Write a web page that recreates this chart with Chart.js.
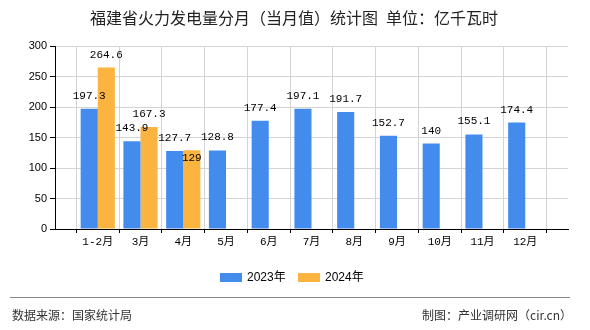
<!DOCTYPE html>
<html>
<head>
<meta charset="utf-8">
<script src="https://cdn.jsdelivr.net/npm/chart.js@4.4.1/dist/chart.umd.min.js"></script>
<style>
  body { margin: 0; background: #fff; }
  #wrap { width: 590px; height: 330px; }
</style>
</head>
<body>
<div id="wrap"><canvas id="chart" width="590" height="330"></canvas></div>
<script>
// 数据
const months = ['1-2月', '3月', '4月', '5月', '6月', '7月', '8月', '9月', '10月', '11月', '12月'];
const values2023 = [197.3, 143.9, 127.7, 128.8, 177.4, 197.1, 191.7, 152.7, 140, 155.1, 174.4];
const values2024 = [264.6, 167.3, 129];
const yTicks = [0, 50, 100, 150, 200, 250, 300];

const titleText = '福建省火力发电量分月（当月值）统计图\u2002单位：亿千瓦时';
const sourceText = '数据来源：国家统计局';
const makerText = '制图：产业调研网（cir.cn）';

// 左右各留一个空位，刻度落在网格线上
const labels = [''].concat(months, ['']);
const pad = arr => [null].concat(arr, new Array(months.length - arr.length + 1).fill(null));

const cjk = '"Noto Sans CJK SC", sans-serif';

// 柱顶数值
const barLabels = {
  id: 'barLabels',
  afterDatasetsDraw(chart) {
    const ctx = chart.ctx;
    ctx.save();
    ctx.font = '11px "Liberation Mono", monospace';
    ctx.fillStyle = '#000';
    ctx.textAlign = 'center';
    ctx.textBaseline = 'middle';
    const placed = [];
    chart.data.datasets.forEach((ds, di) => {
      chart.getDatasetMeta(di).data.forEach((bar, i) => {
        const v = ds.data[i];
        if (v == null) return;
        const text = String(v);
        const w = ctx.measureText(text).width;
        let y = bar.y - 13;
        const hit = p => p.x1 < bar.x + w / 2 && bar.x - w / 2 < p.x2 && p.y1 < y + 5 && y - 5 < p.y2;
        if (placed.some(hit)) y = bar.y + 8;   // 与相邻标签重叠时放到柱内
        placed.push({ x1: bar.x - w / 2, x2: bar.x + w / 2, y1: y - 5, y2: y + 5 });
        ctx.fillText(text, bar.x, y);
      });
    });
    ctx.restore();
  }
};

// 标题、图例、页脚
const decorations = {
  id: 'decorations',
  afterDraw(chart) {
    const ctx = chart.ctx;
    ctx.save();
    ctx.fillStyle = '#222';
    ctx.font = '16px ' + cjk;
    ctx.textAlign = 'center';
    ctx.textBaseline = 'middle';
    ctx.fillText(titleText, 294, 18);

    // 图例
    ctx.font = '12px "Liberation Sans", ' + cjk;
    ctx.textAlign = 'left';
    let x = 220;
    chart.data.datasets.forEach(ds => {
      ctx.fillStyle = ds.backgroundColor;
      ctx.fillRect(x, 273, 22, 9);
      ctx.fillStyle = '#000';
      ctx.fillText(ds.label, x + 27, 277.5);
      x += 78;
    });

    // 页脚
    ctx.strokeStyle = '#888';
    ctx.lineWidth = 1;
    ctx.beginPath();
    ctx.moveTo(10, 297.5);
    ctx.lineTo(570, 297.5);
    ctx.stroke();
    ctx.fillStyle = '#333';
    ctx.font = '12px ' + cjk;
    ctx.fillText(sourceText, 12, 315);
    ctx.textAlign = 'right';
    ctx.fillText(makerText, 572, 315);
    ctx.restore();
  }
};

new Chart(document.getElementById('chart'), {
  type: 'bar',
  data: {
    labels: labels,
    datasets: [
      { label: '2023年', data: pad(values2023), backgroundColor: '#438CEE' },
      { label: '2024年', data: pad(values2024), backgroundColor: '#FBB43F' }
    ]
  },
  options: {
    responsive: false,
    animation: false,
    events: [],
    layout: { padding: { top: 46, right: 22, bottom: 71, left: 0 } },
    datasets: { bar: { categoryPercentage: 0.8, barPercentage: 1.0 } },
    plugins: { legend: { display: false }, title: { display: false }, tooltip: { enabled: false } },
    scales: {
      x: {
        offset: false,
        afterFit: s => { s.height = 30; },
        grid: { color: '#d4d4d4', tickColor: '#000', tickLength: 4, drawOnChartArea: true },
        border: { color: '#000' },
        ticks: {
          autoSkip: false, maxRotation: 0, padding: 2, color: '#000',
          font: { family: '"Liberation Mono", "Noto Sans CJK SC", monospace', size: 11 }
        }
      },
      y: {
        min: 0, max: 300,
        afterFit: s => { s.width = 55; },
        afterBuildTicks: s => { s.ticks = yTicks.map(v => ({ value: v })); },
        grid: { color: '#d4d4d4', tickColor: '#000', tickLength: 5 },
        border: { color: '#000' },
        ticks: { padding: 3, color: '#000', font: { family: '"Liberation Sans", sans-serif', size: 11 } }
      }
    }
  },
  plugins: [barLabels, decorations]
});
</script>
</body>
</html>
